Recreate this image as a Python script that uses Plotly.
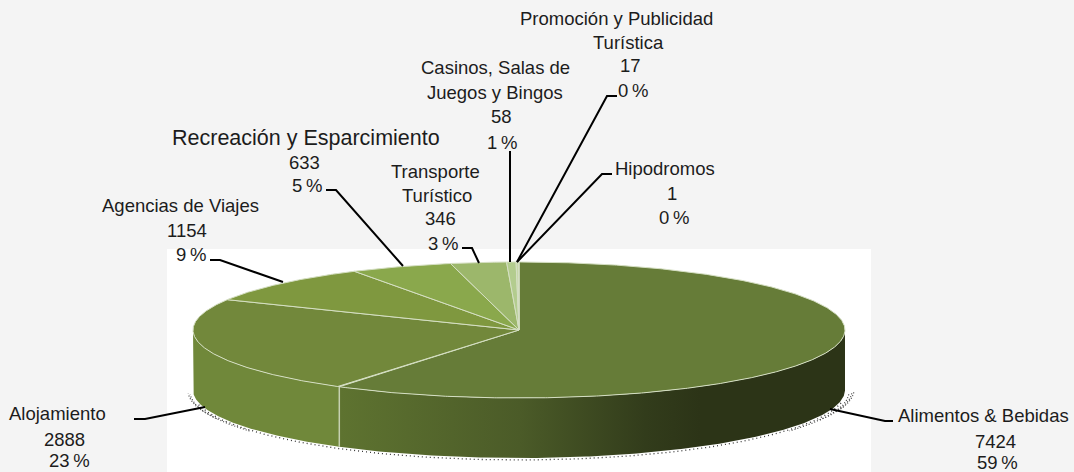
import numpy as np
import plotly.graph_objects as go

# ---- data ----
categories = ["Alimentos & Bebidas", "Alojamiento", "Agencias de Viajes",
              "Recreación y Esparcimiento", "Transporte Turístico",
              "Casinos, Salas de Juegos y Bingos",
              "Promoción y Publicidad Turística", "Hipodromos"]
values = [7424, 2888, 1154, 633, 346, 58, 17, 1]
percents = [59, 23, 9, 5, 3, 1, 0, 0]

# ---- label layout (separate from data) ----
name_lines = [["Alimentos & Bebidas"], ["Alojamiento"], ["Agencias de Viajes"],
              ["Recreación y Esparcimiento"], ["Transporte", "Turístico"],
              ["Casinos, Salas de", "Juegos y Bingos"],
              ["Promoción y Publicidad", "Turística"], ["Hipodromos"]]
label_xy = [
    [(983, 415), (995, 441), (997, 462)],
    [(57, 413), (64, 439), (69, 460)],
    [(180, 205), (187, 230), (191, 254)],
    [(306, 138), (304, 162), (307, 185)],
    [(435, 171), (437, 195), (440, 218), (443, 243)],
    [(495, 67), (495, 92), (501, 116), (502, 142)],
    [(616, 18), (628, 42), (630, 65), (633, 90)],
    [(665, 168), (672, 193), (674, 217)],
]
leaders = [
    [(893, 421), (885, 421), (830, 409)],
    [(134, 419), (145, 419), (205, 407)],
    [(210, 260), (220, 260), (283, 282)],
    [(326, 190), (336, 190), (403, 266)],
    [(462, 248), (472, 248), (479, 263)],
    [(510, 151), (510, 262)],
    [(617, 96), (607, 96), (517, 262)],
    [(612, 174), (602, 174), (517, 262)],
]
top_colors = ["#667c38", "#72883b", "#7f983f", "#8aa84c", "#9cb76b", "#b3cc8e", "#c6d8a8", "#d3e2ba"]
edge_color = "#d5dfc3"
wall_colors = {"Alojamiento": "#70883a"}

CX, CY, RX, RY, DEPTH = 519, 330, 326, 68, 60
FONT = "Liberation Sans"
TXT = "#1c1c1c"
SIZE = 18.5
BIG = 21.5


def ell(t, dy=0, rx=RX, ry=RY):
    t = np.radians(t)
    return CX + rx * np.sin(t), CY + dy + ry * -np.cos(t)


total = sum(values)
edges = np.concatenate([[0], np.cumsum(values)]) / total * 360

fig = go.Figure()

# dotted shadow hugging the disc's lower edge, heavier at both ends
x, y = ell(np.linspace(100, 260, 300), DEPTH + 1, RX + 1, RY + 1)
fig.add_trace(go.Scatter(x=x, y=y, mode="lines",
                         line=dict(color="#333333", width=1.3, dash="1px,3px")))
for lo, hi, dx, dy in [(92, 125, 4, 2), (92, 116, 7, 1), (92, 108, 9, 0),
                       (235, 268, 3, 2), (246, 268, 5, 1)]:
    x, y = ell(np.linspace(lo, hi, 60), DEPTH + dy, RX + dx, RY)
    fig.add_trace(go.Scatter(x=x, y=y, mode="lines",
                             line=dict(color="#444444", width=1.2, dash="1px,2px")))

# side walls (front half of the disc)
for i in range(len(values)):
    a0, a1 = max(edges[i], 90), min(edges[i + 1], 270)
    if a1 <= a0:
        continue
    t = np.linspace(a0, a1, 200)
    xt, yt = ell(t)
    xb, yb = ell(t, DEPTH)
    xs = np.concatenate([xt, xb[::-1], xt[:1]])
    ys = np.concatenate([yt, yb[::-1], yt[:1]])
    if i == 0:
        grad = dict(type="horizontal", start=340, stop=700,
                    colorscale=[[0, "#5e7330"], [0.5, "#4b5b28"], [0.85, "#323c1b"], [1, "#2c3417"]])
        fig.add_trace(go.Scatter(x=xs, y=ys, mode="lines", fill="toself", line=dict(width=0),
                                 fillcolor="rgba(0,0,0,0)", fillgradient=grad))
    else:
        fig.add_trace(go.Scatter(x=xs, y=ys, mode="lines", fill="toself", line=dict(width=0),
                                 fillcolor=wall_colors[categories[i]]))

# wall seam between the first two slices
sx, sy = ell(edges[1])
fig.add_trace(go.Scatter(x=[sx, sx], y=[sy, sy + DEPTH], mode="lines",
                         line=dict(color="#c5d0b0", width=1.5)))

# top face
for i in range(len(values)):
    t = np.linspace(edges[i], edges[i + 1], max(int(edges[i + 1] - edges[i]) * 3, 3))
    x, y = ell(t)
    xs = np.concatenate([[CX], x, [CX]])
    ys = np.concatenate([[CY], y, [CY]])
    fig.add_trace(go.Scatter(x=xs, y=ys, mode="lines", fill="toself",
                             fillcolor=top_colors[i],
                             line=dict(color=edge_color, width=1)))

# leader lines
for pts in leaders:
    fig.add_trace(go.Scatter(x=[p[0] for p in pts], y=[p[1] for p in pts], mode="lines",
                             line=dict(color="#000000", width=2)))

# labels
annotations = []
for i, cat in enumerate(categories):
    lines = name_lines[i] + [str(values[i]), f"{percents[i]}\u2009%"]
    for j, (line, xy) in enumerate(zip(lines, label_xy[i])):
        s = BIG if i == 3 and j == 0 else SIZE
        annotations.append(dict(x=xy[0], y=xy[1], text=line, showarrow=False,
                                xanchor="center", yanchor="middle",
                                font=dict(family=FONT, size=s, color=TXT)))

fig.update_layout(
    width=1074, height=472, margin=dict(l=0, r=0, t=0, b=0),
    paper_bgcolor="#f4f4f4", plot_bgcolor="#f4f4f4", showlegend=False,
    hovermode=False, annotations=annotations,
    xaxis=dict(range=[0, 1074], visible=False, fixedrange=True),
    yaxis=dict(range=[472, 0], visible=False, fixedrange=True),
    shapes=[dict(type="rect", layer="below", x0=167, x1=871, y0=249, y1=472,
                 fillcolor="#ffffff", line=dict(width=0))],
)
fig.write_html("out.html", config={"displayModeBar": False},
               post_script="document.body.style.margin='0';")
